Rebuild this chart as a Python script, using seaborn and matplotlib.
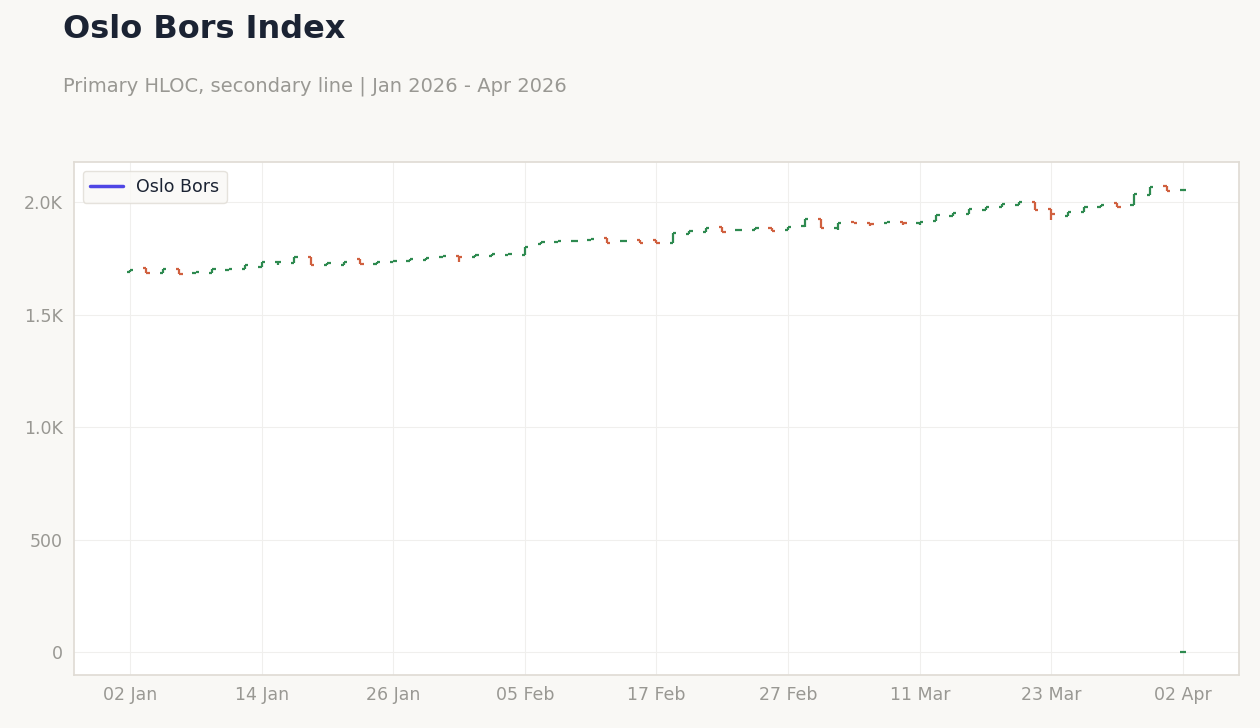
import matplotlib
matplotlib.use("Agg")
import matplotlib.pyplot as plt
import seaborn as sns
import pandas as pd
from matplotlib.lines import Line2D
from matplotlib.ticker import FuncFormatter

# business days, one OHLC bar each
dates = pd.bdate_range("2026-01-02", periods=65)
opens = [1690, 1705, 1686, 1701, 1683, 1683, 1698, 1702, 1713, 1732,
         1727, 1754, 1720, 1720, 1747, 1724, 1735, 1739, 1742, 1754,
         1761, 1756, 1760, 1764, 1764, 1813, 1822, 1827, 1831, 1839,
         1828, 1831, 1831, 1819, 1858, 1869, 1887, 1875, 1875, 1883,
         1875, 1893, 1923, 1883, 1911, 1909, 1905, 1912, 1905, 1917,
         1938, 1946, 1964, 1976, 1988, 2000, 1967, 1938, 1957, 1979,
         1994, 1989, 2031, 2071, 2053]
closes = [1698, 1686, 1701, 1680, 1687, 1701, 1704, 1719, 1732, 1732,
          1754, 1720, 1727, 1732, 1724, 1735, 1739, 1745, 1753, 1761,
          1757, 1764, 1767, 1767, 1801, 1824, 1828, 1827, 1837, 1819,
          1828, 1816, 1819, 1861, 1872, 1886, 1868, 1875, 1883, 1872,
          1890, 1923, 1883, 1908, 1905, 1902, 1912, 1905, 1912, 1941,
          1952, 1967, 1976, 1991, 2001, 1964, 1946, 1957, 1979, 1989,
          1976, 2035, 2068, 2050, 2053]
low_override = {9: 1720, 20: 1735, 41: 1890, 43: 1878, 45: 1893, 47: 1898, 48: 1898, 56: 1920}
secondary_last = 0  # stray secondary value at the final date

GREEN = "#2e8a50"
RED = "#d0603f"

df = pd.DataFrame({"date": dates, "open": opens, "close": closes})
df["idx"] = range(len(df))
df["high"] = df[["open", "close"]].max(axis=1)
df["low"] = df[["open", "close"]].min(axis=1)
for i, v in low_override.items():
    df.loc[i, "low"] = v

sns.set_theme(style="whitegrid")
plt.rcParams["font.family"] = ["DejaVu Sans"]

fig = plt.figure(figsize=(12.6, 7.28), dpi=100, facecolor="#f9f8f5")
ax = fig.add_axes([74 / 1260, 1 - 675 / 728, (1239 - 74) / 1260, (675 - 162) / 728])
ax.set_facecolor("white")

w = 0.2
for _, r in df.iterrows():
    c = GREEN if r["close"] >= r["open"] else RED
    x = r["idx"]
    ax.vlines(x, r["low"], r["high"], color=c, lw=1.6)
    ax.hlines(r["open"], x - w, x, color=c, lw=1.6)
    ax.hlines(r["close"], x, x + w, color=c, lw=1.6)
ax.hlines(secondary_last, 64 - w, 64 + w, color=GREEN, lw=1.6)

ax.set_xlim(-3.4, 67.4)
ax.set_ylim(-102, 2178)
ticks = list(range(0, 65, 8))
ax.set_xticks(ticks)
ax.set_xticklabels([dates[i].strftime("%d %b") for i in ticks])
ax.set_yticks([0, 500, 1000, 1500, 2000])
ax.yaxis.set_major_formatter(FuncFormatter(lambda v, _: f"{v/1000:.1f}K" if v >= 1000 else f"{v:.0f}"))
ax.tick_params(colors="#999893", labelsize=12.5, length=0, pad=8)
ax.grid(color="#f0efed", lw=0.8)
for s in ax.spines.values():
    s.set_color("#e0dcd5")
ax.set_xlabel("")
ax.set_ylabel("")

leg = ax.legend(handles=[Line2D([], [], color="#4f46e5", lw=2.5)], labels=["Oslo Bors"],
                loc="upper left", fontsize=12.5, frameon=True, facecolor="#f9f8f5",
                edgecolor="#e0dcd5", handlelength=1.9)
for t in leg.get_texts():
    t.set_color("#1b2333")

fig.text(63 / 1260, 1 - 30 / 728, "Oslo Bors Index", fontsize=23, fontweight="bold",
         color="#1b2333", va="center")
fig.text(63 / 1260, 1 - 86 / 728, "Primary HLOC, secondary line | Jan 2026 - Apr 2026",
         fontsize=14, color="#999893", va="center")

fig.savefig("out.png", dpi=100, facecolor=fig.get_facecolor())
